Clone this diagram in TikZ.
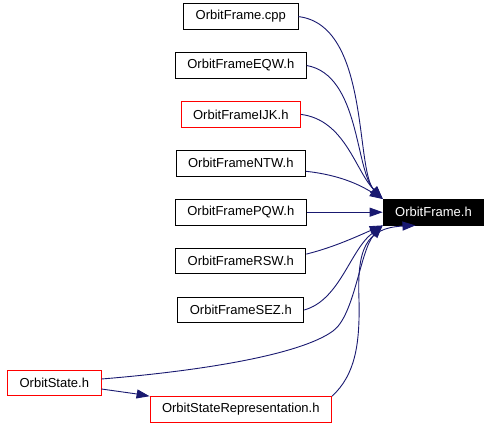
\documentclass[tikz,border=0pt]{standalone}
\usepackage{fontspec}
\setmainfont{Liberation Sans}
\usetikzlibrary{positioning, arrows.meta}
\definecolor{edgeblue}{HTML}{191970}

\begin{document}
\begin{tikzpicture}[x=1pt, y=-1pt, node distance=22.5pt,
    file/.style={draw, line width=0.9pt, inner xsep=12pt, inner ysep=0pt, minimum height=25.5pt, font=\fontsize{13}{15}\selectfont},
    undoc/.style={file, draw=red},
    edge/.style={draw=edgeblue, line width=0.9pt, -{Triangle[length=13pt, width=9pt]}}]
    \useasboundingbox (0,0) rectangle (489,425);

    \node[file]                         (pqw)      at (240.8,212.2) {OrbitFramePQW.h};
    \node[file, above=of pqw]           (ntw)      {OrbitFrameNTW.h};
    \node[undoc, above=of ntw]          (ijk)      {OrbitFrameIJK.h};
    \node[file, above=of ijk]           (eqw)      {OrbitFrameEQW.h};
    \node[file, above=of eqw]           (cpp)      {OrbitFrame.cpp};
    \node[file, below=of pqw]           (rsw)      {OrbitFrameRSW.h};
    \node[file, below=of rsw]           (sez)      {OrbitFrameSEZ.h};
    \node[undoc, below=73pt of sez]     (staterep) {OrbitStateRepresentation.h};
    \node[undoc]                        (state)    at (54.3,383) {OrbitState.h};
    \node[file, fill=black, text=white, right=76pt of pqw] (frame) {OrbitFrame.h};

    \draw[edge] (cpp.east) .. controls (370,25) and (355,170) .. (frame.north west);
    \draw[edge] (eqw.east) .. controls (360,75) and (355,170) .. (frame.north west);
    \draw[edge] (ijk.east) .. controls (345,120) and (355,170) .. (frame.north west);
    \draw[edge] ([yshift=-8pt]ntw.east) .. controls (340,175) and (360,185) .. (frame.north west);
    \draw[edge] (pqw) -- (frame);
    \draw[edge] ([yshift=7pt]rsw.east) .. controls (335,247) and (360,235) .. (frame.south west);
    \draw[edge] (sez.east) .. controls (340,300) and (350,250) .. (frame.south west);
    \draw[edge] ([yshift=4pt]state.east) .. controls (200,371) and (300,355) .. (333,331)
        .. controls (355,315) and (360,250) .. (frame.south west);
    \draw[edge] ([yshift=-6pt]state.east) .. controls (120,391) .. (staterep.north west);
    \draw[edge] (staterep.north east) .. controls (355,375) and (360,345) .. (359,300)
        .. controls (357,250) and (365,228) .. ([xshift=-18pt]frame.south);
\end{tikzpicture}
\end{document}
